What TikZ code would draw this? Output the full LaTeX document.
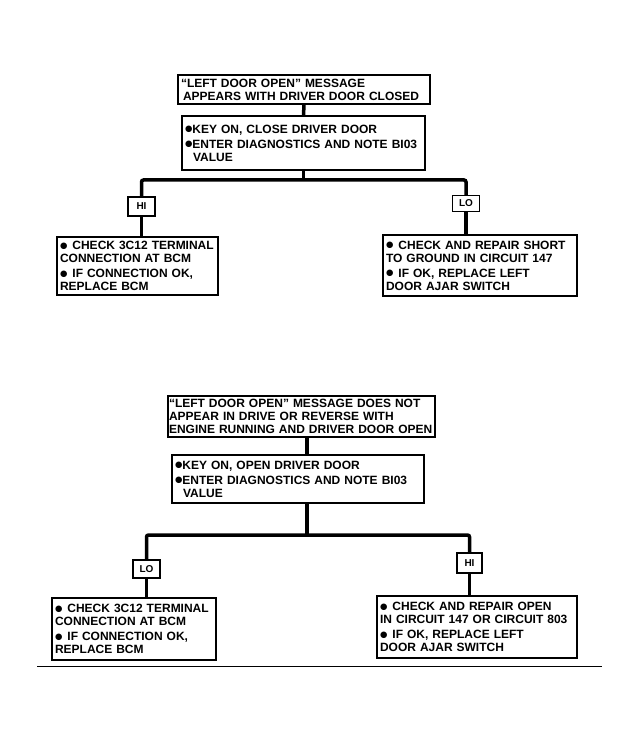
\documentclass[tikz,border=0pt]{standalone}
\usepackage{fontspec}
\setmainfont{Liberation Sans}
\newfontfamily\symfont{DejaVu Sans}
\newcommand\bulmark{\raisebox{1.2pt}{\symfont\fontsize{8.5}{8}\selectfont ●}}
\begin{document}
\begin{tikzpicture}[x=1pt,y=-1pt,
  tbox/.style={draw, line width=1.3pt, fill=white, inner xsep=3pt, inner ysep=1pt,
    align=left, font=\fontsize{12}{13}\selectfont\bfseries},
  lab/.style={draw, line width=1.3pt, fill=white, inner sep=0pt,
    font=\fontsize{10}{10}\selectfont\bfseries},
  conn/.style={line width=3.5pt, rounded corners=2pt},
  rule/.style={line width=0.8pt}]
\useasboundingbox[fill=white] (0,0) rectangle (639,743);

% ---------- top chart ----------
\node[tbox, minimum width=252pt, minimum height=29pt, text width=246pt] (A) at (304,89.5)
  {“LEFT DOOR OPEN” MESSAGE\\\hspace*{2pt}APPEARS WITH DRIVER DOOR CLOSED};
\node[tbox, minimum width=243pt, minimum height=54pt, text width=237pt] (B) at (303.5,143)
  {\bulmark KEY ON, CLOSE DRIVER DOOR\\[2pt]\bulmark ENTER DIAGNOSTICS AND NOTE BI03\\\hspace*{8pt}VALUE};
\coordinate (y1) at (0,180);
\node[lab, minimum width=27pt, minimum height=19pt] (HI1) at (141.5,206.5) {HI};
\node[lab, minimum width=27pt, minimum height=16pt] (LO1) at (466,203.5) {LO};
\node[tbox, minimum width=161pt, minimum height=58pt, text width=155pt] (L1) at (137.5,266)
  {\bulmark\hspace{5pt}CHECK 3C12 TERMINAL\\CONNECTION AT BCM\\[2pt]\bulmark\hspace{5pt}IF CONNECTION OK,\\REPLACE BCM};
\node[tbox, minimum width=194pt, minimum height=61pt, text width=188pt] (R1) at (480,265.5)
  {\bulmark\hspace{5pt}CHECK AND REPAIR SHORT\\TO GROUND IN CIRCUIT 147\\[2pt]\bulmark\hspace{5pt}IF OK, REPLACE LEFT\\DOOR AJAR SWITCH};

\draw[conn] (A.south) -- (B.north);
\draw[conn] (B.south) -- (B.south |- y1);
\draw[conn] (HI1.north) |- (B.south |- y1) -| (LO1.north);
\draw[conn] (HI1.south) -- (HI1.south |- L1.north);
\draw[conn] (LO1.south) -- (LO1.south |- R1.north);

% ---------- bottom chart ----------
\node[tbox, inner xsep=1pt, minimum width=267pt, minimum height=41pt, text width=265pt] (C) at (301.5,416.5)
  {“LEFT DOOR OPEN” MESSAGE DOES NOT\\APPEAR IN DRIVE OR REVERSE WITH\\\mbox{ENGINE RUNNING AND DRIVER DOOR OPEN}};
\node[tbox, minimum width=252pt, minimum height=48pt, text width=246pt] (D) at (298,479)
  {\bulmark KEY ON, OPEN DRIVER DOOR\\[2pt]\bulmark ENTER DIAGNOSTICS AND NOTE BI03\\\hspace*{8pt}VALUE};
\coordinate (y2) at (0,535);
\coordinate (x2) at (307,0);
\node[lab, minimum width=27pt, minimum height=18pt] (LO2) at (146.5,569) {LO};
\node[lab, minimum width=25pt, minimum height=20pt] (HI2) at (469.5,563) {HI};
\node[tbox, minimum width=164pt, minimum height=62pt, text width=158pt] (L2) at (134,629)
  {\bulmark\hspace{5pt}CHECK 3C12 TERMINAL\\CONNECTION AT BCM\\[2pt]\bulmark\hspace{5pt}IF CONNECTION OK,\\REPLACE BCM};
\node[tbox, minimum width=200pt, minimum height=62pt, text width=194pt] (R2) at (477,627)
  {\bulmark\hspace{5pt}CHECK AND REPAIR OPEN\\IN CIRCUIT 147 OR CIRCUIT 803\\[2pt]\bulmark\hspace{5pt}IF OK, REPLACE LEFT\\DOOR AJAR SWITCH};

\draw[conn] (C.south -| x2) -- (D.north -| x2);
\draw[conn] (D.south -| x2) -- (x2 |- y2);
\draw[conn] (LO2.north) |- (x2 |- y2) -| (HI2.north);
\draw[conn] (LO2.south) -- (LO2.south |- L2.north);
\draw[conn] (HI2.south) -- (HI2.south |- R2.north);

\coordinate (r1) at (37,666);
\coordinate (r2) at (602,666);
\draw[rule] (r1) -- (r2);
\end{tikzpicture}
\end{document}
